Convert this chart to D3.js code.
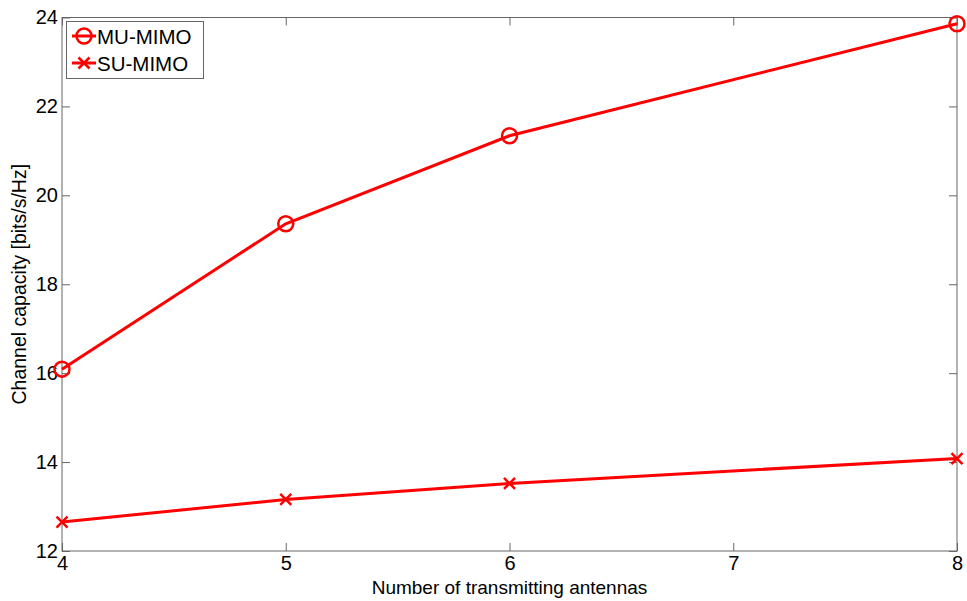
<!DOCTYPE html>
<html><head><meta charset="utf-8">
<script src="https://cdn.jsdelivr.net/npm/d3@7"></script>
<style>body{margin:0;background:#fff;} text{font-family:"Liberation Sans",Arial,sans-serif;}</style>
</head><body><svg id="c" width="967" height="601"></svg>
<script>
const antennas = [4, 5, 6, 8];
const muMimo = [16.09, 19.36, 21.34, 23.86];
const suMimo = [12.65, 13.16, 13.52, 14.08];
const xTicks = [4, 5, 6, 7, 8];
const yTicks = [12, 14, 16, 18, 20, 22, 24];
const seriesNames = ["MU-MIMO", "SU-MIMO"];

const svg = d3.select("#c");
const L = 62, R = 957, T = 17.5, B = 551;
const x = d3.scaleLinear().domain([4, 8]).range([L, R]);
const y = d3.scaleLinear().domain([12, 24]).range([B, T]);
const red = "#ff0000", axc = "#666";

svg.append("rect").attr("x", L).attr("y", T).attr("width", R - L).attr("height", B - T)
  .attr("fill", "none").attr("stroke", axc).attr("stroke-width", 1);

const gx = svg.append("g").attr("transform", `translate(0,${B})`)
  .call(d3.axisBottom(x).tickValues(xTicks).tickFormat(d3.format("d")).tickSizeInner(-8).tickSizeOuter(0).tickPadding(7));
const gxt = svg.append("g").attr("transform", `translate(0,${T})`)
  .call(d3.axisTop(x).tickValues(xTicks).tickFormat("").tickSizeInner(-8).tickSizeOuter(0));
const gy = svg.append("g").attr("transform", `translate(${L},0)`)
  .call(d3.axisLeft(y).tickValues(yTicks).tickFormat(d3.format("d")).tickSizeInner(-8).tickSizeOuter(0).tickPadding(6));
const gyr = svg.append("g").attr("transform", `translate(${R},0)`)
  .call(d3.axisRight(y).tickValues(yTicks).tickFormat("").tickSizeInner(-8).tickSizeOuter(0));
[gx, gxt, gy, gyr].forEach(g => {
  g.select(".domain").remove();
  g.selectAll(".tick line").attr("stroke", axc);
  g.selectAll("text").attr("fill", "#000").style("font-size", "20px").style("font-family", "Liberation Sans, Arial, sans-serif");
});
gy.selectAll("text").attr("dx", "2");
gx.selectAll("text").attr("dy", "0.62em");

const line = d3.line().x((d, i) => x(antennas[i])).y(d => y(d));
svg.append("path").datum(muMimo).attr("d", line).attr("fill", "none").attr("stroke", red).attr("stroke-width", 3);
svg.append("path").datum(suMimo).attr("d", line).attr("fill", "none").attr("stroke", red).attr("stroke-width", 3);

svg.selectAll(".mu").data(muMimo).enter().append("circle")
  .attr("cx", (d, i) => x(antennas[i])).attr("cy", d => y(d)).attr("r", 7.5)
  .attr("fill", "none").attr("stroke", red).attr("stroke-width", 2.5);

function cross(g, cx, cy, s) {
  g.append("path").attr("d", `M${cx - s},${cy - s}L${cx + s},${cy + s}M${cx - s},${cy + s}L${cx + s},${cy - s}`)
    .attr("stroke", red).attr("stroke-width", 2.5).attr("fill", "none");
}
suMimo.forEach((d, i) => cross(svg, x(antennas[i]), y(d), 5.5));

// Legend
const lg = svg.append("g");
lg.append("rect").attr("x", 66.5).attr("y", 21.5).attr("width", 137).attr("height", 57)
  .attr("fill", "#fff").attr("stroke", axc).attr("stroke-width", 1);
const ly = [36, 63];
seriesNames.forEach((n, i) => {
  lg.append("line").attr("x1", 72).attr("x2", 96).attr("y1", ly[i]).attr("y2", ly[i]).attr("stroke", red).attr("stroke-width", 3);
  if (i === 0) lg.append("circle").attr("cx", 84).attr("cy", ly[i]).attr("r", 7.5).attr("fill", "none").attr("stroke", red).attr("stroke-width", 2.5);
  else cross(lg, 84, ly[i], 5.5);
  lg.append("text").attr("x", 97).attr("y", ly[i] + 7.5).text(n).style("font-size", "20.5px").attr("fill", "#000");
});

svg.append("text").attr("x", (L + R) / 2).attr("y", 594).attr("text-anchor", "middle")
  .style("font-size", "19px").text("Number of transmitting antennas");
svg.append("text").attr("transform", `translate(26,${(T + B) / 2}) rotate(-90)`).attr("text-anchor", "middle")
  .style("font-size", "19.5px").text("Channel capacity [bits/s/Hz]");
</script></body></html>
